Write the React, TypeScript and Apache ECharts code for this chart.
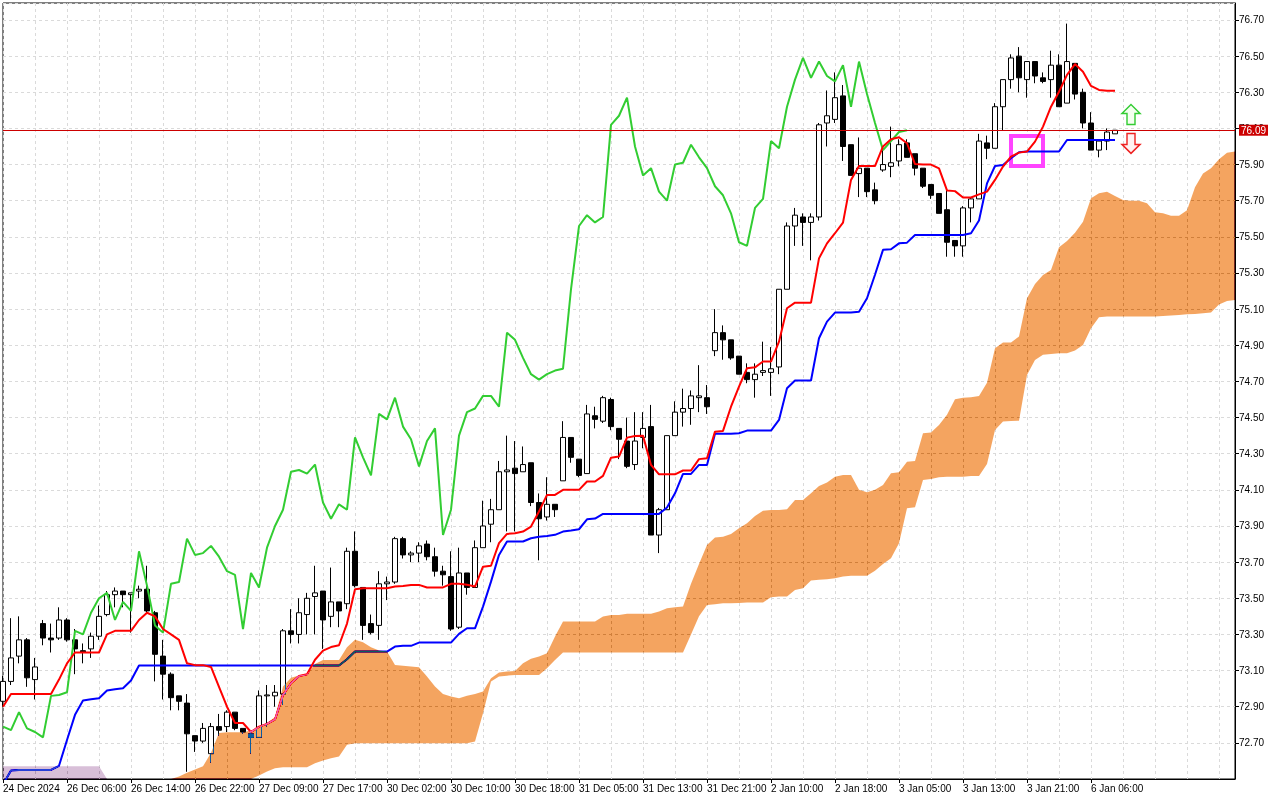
import React, { useEffect, useRef } from "react";
import * as echarts from "echarts";

// ---- tick labels (every 8 bars) ----
const timeLabels = [
  "24 Dec 2024", "26 Dec 06:00", "26 Dec 14:00", "26 Dec 22:00", "27 Dec 09:00", "27 Dec 17:00",
  "30 Dec 02:00", "30 Dec 10:00", "30 Dec 18:00", "31 Dec 05:00", "31 Dec 13:00", "31 Dec 21:00",
  "2 Jan 10:00", "2 Jan 18:00", "3 Jan 05:00", "3 Jan 13:00", "3 Jan 21:00", "6 Jan 06:00",
];

// ---- H1 candles ----
const opens = [
  72.93, 73.04, 73.18, 73.27, 73.05, 73.36, 73.28, 73.28, 73.38, 73.27,
  73.21, 73.22, 73.29, 73.41, 73.52, 73.54, 73.52, 73.54, 73.55, 73.42,
  73.18, 73.08, 72.96, 72.92, 72.74, 72.71, 72.64, 72.79, 72.79, 72.87,
  72.78, 72.75, 72.73, 72.96, 72.96, 72.97, 73.32, 73.30, 73.41, 73.51,
  73.54, 73.40, 73.48, 73.47, 73.76, 73.56, 73.36, 73.35, 73.58, 73.59,
  73.83, 73.74, 73.75, 73.80, 73.73, 73.65, 73.62, 73.34, 73.64, 73.56,
  73.78, 73.91, 73.99, 74.20, 74.22, 74.20, 74.25, 74.03, 73.95, 74.02,
  74.15, 74.39, 74.27, 74.19, 74.51, 74.48, 74.60, 74.44, 74.37, 74.24,
  74.39, 74.45, 73.85, 73.99, 74.40, 74.53, 74.55, 74.61, 74.61, 74.87,
  74.97, 74.93, 74.84, 74.75, 74.71, 74.75, 74.75, 74.78, 75.21, 75.56,
  75.61, 75.58, 75.61, 76.13, 76.15, 76.28, 76.01, 75.85, 75.88, 75.76,
  75.87, 75.89, 75.92, 76.02, 75.96, 75.88, 75.79, 75.74, 75.65, 75.48,
  75.45, 75.66, 75.71, 76.02, 75.99, 76.22, 76.37, 76.50, 76.37, 76.47,
  76.38, 76.37, 76.45, 76.24, 76.46, 76.30, 76.13, 75.98, 76.03, 76.07,
];
const highs = [
  73.07, 73.39, 73.40, 73.28, 73.17, 73.38, 73.36, 73.45, 73.39, 73.33,
  73.25, 73.31, 73.46, 73.54, 73.56, 73.54, 73.53, 73.57, 73.68, 73.43,
  73.27, 73.09, 72.96, 72.97, 72.74, 72.81, 72.81, 72.86, 72.88, 72.87,
  72.78, 72.76, 72.99, 73.02, 73.02, 73.33, 73.44, 73.50, 73.53, 73.68,
  73.54, 73.67, 73.48, 73.78, 73.87, 73.56, 73.41, 73.65, 73.62, 73.84,
  73.84, 73.76, 73.81, 73.82, 73.78, 73.68, 73.76, 73.78, 73.64, 73.82,
  74.04, 74.05, 74.26, 74.40, 74.37, 74.34, 74.25, 74.08, 74.17, 74.02,
  74.48, 74.39, 74.27, 74.57, 74.56, 74.62, 74.61, 74.44, 74.50, 74.53,
  74.53, 74.57, 74.00, 74.40, 74.59, 74.66, 74.65, 74.79, 74.68, 75.10,
  75.01, 74.93, 74.84, 74.80, 74.80, 74.92, 74.89, 75.21, 75.58, 75.66,
  75.63, 75.63, 76.13, 76.31, 76.41, 76.34, 76.01, 76.05, 75.88, 75.80,
  75.98, 76.11, 76.04, 76.04, 75.96, 75.88, 75.79, 75.74, 75.77, 75.48,
  75.67, 75.72, 76.07, 76.06, 76.24, 76.37, 76.51, 76.55, 76.47, 76.47,
  76.41, 76.53, 76.51, 76.68, 76.46, 76.32, 76.19, 76.03, 76.10, 76.09,
];
const lows = [
  72.90, 73.02, 73.14, 73.01, 72.94, 73.24, 73.20, 73.27, 73.26, 73.08,
  73.14, 73.17, 73.27, 73.40, 73.45, 73.45, 73.31, 73.50, 73.42, 73.04,
  72.94, 72.88, 72.88, 72.54, 72.65, 72.70, 72.59, 72.74, 72.76, 72.77,
  72.75, 72.64, 72.73, 72.79, 72.90, 72.91, 73.25, 73.25, 73.30, 73.30,
  73.22, 73.34, 73.34, 73.44, 73.56, 73.27, 73.30, 73.27, 73.49, 73.58,
  73.72, 73.70, 73.70, 73.71, 73.62, 73.57, 73.32, 73.33, 73.52, 73.56,
  73.78, 73.81, 73.99, 73.87, 73.87, 74.20, 74.01, 73.71, 73.93, 73.95,
  74.15, 74.25, 74.17, 74.19, 74.44, 74.47, 74.43, 74.27, 74.22, 74.21,
  74.33, 73.85, 73.75, 73.99, 74.40, 74.45, 74.46, 74.53, 74.52, 74.84,
  74.82, 74.82, 74.74, 74.69, 74.61, 74.73, 74.62, 74.74, 75.21, 75.45,
  75.45, 75.37, 75.59, 76.00, 76.13, 75.92, 75.84, 75.72, 75.72, 75.68,
  75.86, 75.83, 75.89, 75.94, 75.84, 75.77, 75.71, 75.63, 75.39, 75.39,
  75.39, 75.58, 75.71, 75.93, 75.99, 76.09, 76.32, 76.30, 76.27, 76.35,
  76.35, 76.27, 76.22, 76.24, 76.26, 76.10, 75.98, 75.94, 75.98, 76.07,
];
const closes = [
  73.04, 73.17, 73.27, 73.06, 73.12, 73.28, 73.27, 73.38, 73.27, 73.22,
  73.20, 73.29, 73.40, 73.52, 73.54, 73.52, 73.53, 73.55, 73.43, 73.19,
  73.08, 72.95, 72.93, 72.75, 72.71, 72.78, 72.79, 72.77, 72.87, 72.78,
  72.76, 72.73, 72.96, 72.965, 72.98, 73.32, 73.30, 73.42, 73.50, 73.53,
  73.38, 73.48, 73.43, 73.76, 73.57, 73.35, 73.31, 73.58, 73.59, 73.83,
  73.74, 73.75, 73.79, 73.73, 73.65, 73.63, 73.33, 73.64, 73.56, 73.78,
  73.90, 73.99, 74.20, 74.21, 74.19, 74.24, 74.03, 73.94, 74.02, 73.99,
  74.39, 74.28, 74.18, 74.52, 74.49, 74.61, 74.45, 74.38, 74.23, 74.37,
  74.44, 73.85, 73.99, 74.40, 74.53, 74.55, 74.62, 74.62, 74.56, 74.97,
  74.93, 74.83, 74.74, 74.71, 74.74, 74.76, 74.77, 75.21, 75.56, 75.62,
  75.58, 75.61, 76.12, 76.17, 76.27, 76.00, 75.84, 75.88, 75.75, 75.70,
  75.90, 75.91, 76.01, 75.94, 75.88, 75.78, 75.73, 75.63, 75.47, 75.45,
  75.66, 75.71, 76.03, 75.99, 76.22, 76.37, 76.49, 76.38, 76.47, 76.39,
  76.36, 76.45, 76.22, 76.47, 76.29, 76.13, 75.98, 76.03, 76.08, 76.09,
];

// ---- Ichimoku lines ----
const tenkan = [
  72.90, 72.97, 72.97, 72.97, 72.97, 72.97, 72.97, 73.05, 73.14, 73.20,
  73.20, 73.20, 73.20, 73.30, 73.32, 73.32, 73.32, 73.38, 73.42, 73.40,
  73.33, 73.30, 73.27, 73.14, 73.13, 73.13, 73.12, 73.01, 72.90, 72.81,
  72.81, 72.76, 72.79, 72.805, 72.83, 72.965, 73.03, 73.07, 73.08, 73.16,
  73.21, 73.23, 73.24, 73.36, 73.55, 73.556, 73.556, 73.556, 73.556, 73.565,
  73.568, 73.574, 73.574, 73.56, 73.56, 73.56, 73.58, 73.58, 73.575, 73.565,
  73.675, 73.68, 73.805, 73.856, 73.86, 73.869, 73.897, 73.98, 74.072, 74.072,
  74.10, 74.10, 74.10, 74.146, 74.146, 74.177, 74.278, 74.284, 74.389, 74.398,
  74.40, 74.238, 74.186, 74.186, 74.186, 74.207, 74.207, 74.27, 74.275, 74.422,
  74.426, 74.56, 74.671, 74.773, 74.778, 74.81, 74.81, 74.92, 75.105, 75.136,
  75.136, 75.136, 75.381, 75.464, 75.52, 75.579, 75.815, 75.892, 75.892, 75.892,
  76.0, 76.04, 76.051, 76.018, 75.903, 75.90, 75.90, 75.879, 75.757, 75.753,
  75.718, 75.718, 75.735, 75.75, 75.815, 75.889, 75.944, 75.966, 75.972, 76.027,
  76.11, 76.22, 76.303, 76.396, 76.456, 76.414, 76.335, 76.313, 76.309, 76.309,
];
const kijun = [
  72.47, 72.547, 72.55, 72.55, 72.55, 72.55, 72.55, 72.573, 72.716, 72.855,
  72.934, 72.941, 72.947, 72.99, 72.997, 73.002, 73.045, 73.128, 73.128, 73.128,
  73.128, 73.128, 73.128, 73.128, 73.128, 73.128, 73.128, 73.128, 73.128, 73.128,
  73.128, 73.128, 73.128, 73.128, 73.128, 73.128, 73.128, 73.128, 73.128, 73.128,
  73.128, 73.128, 73.128, 73.163, 73.205, 73.205, 73.205, 73.205, 73.205, 73.233,
  73.237, 73.237, 73.255, 73.255, 73.255, 73.255, 73.255, 73.303, 73.334, 73.334,
  73.454, 73.592, 73.74, 73.814, 73.814, 73.814, 73.832, 73.841, 73.845, 73.851,
  73.869, 73.875, 73.882, 73.937, 73.941, 73.967, 73.967, 73.967, 73.967, 73.967,
  73.967, 73.967, 73.967, 74.002, 74.081, 74.188, 74.188, 74.238, 74.238, 74.41,
  74.41, 74.41, 74.413, 74.428, 74.428, 74.428, 74.428, 74.487, 74.662, 74.705,
  74.705, 74.705, 74.939, 75.031, 75.081, 75.081, 75.081, 75.086, 75.16, 75.29,
  75.428, 75.431, 75.464, 75.468, 75.51, 75.51, 75.51, 75.51, 75.51, 75.51,
  75.51, 75.52, 75.59, 75.796, 75.892, 75.898, 75.935, 75.968, 75.972, 75.972,
  75.972, 75.972, 75.972, 76.036, 76.036, 76.036, 76.036, 76.036, 76.036, 76.036,
];
const spanA = [
  72.50, 72.50, 72.50, 72.50, 72.50, 72.50, 72.50, 72.50, 72.50, 72.50,
  72.50, 72.50, 72.50, 72.50, 72.50, 72.50, 72.50, 72.50, 72.50, 72.50,
  72.50, 72.50, 72.514, 72.535, 72.553, 72.57, 72.645, 72.755, 72.758, 72.758,
  72.758, 72.768, 72.79, 72.81, 72.843, 73.012, 73.06, 73.073, 73.08, 73.137,
  73.159, 73.159, 73.159, 73.229, 73.27, 73.257, 73.229, 73.211, 73.205, 73.131,
  73.126, 73.122, 73.118, 73.067, 73.012, 72.97, 72.956, 72.947, 72.96, 72.97,
  72.984, 73.058, 73.089, 73.095, 73.098, 73.141, 73.165, 73.178, 73.196, 73.288,
  73.371, 73.371, 73.371, 73.371, 73.371, 73.399, 73.408, 73.408, 73.414, 73.414,
  73.414, 73.414, 73.427, 73.445, 73.45, 73.454, 73.58, 73.69, 73.795, 73.836,
  73.841, 73.856, 73.888, 73.915, 73.956, 73.985, 73.989, 73.989, 73.993, 74.044,
  74.044, 74.081, 74.122, 74.14, 74.173, 74.182, 74.182, 74.10, 74.087, 74.10,
  74.127, 74.192, 74.197, 74.256, 74.26, 74.413, 74.417, 74.459, 74.515, 74.601,
  74.61, 74.612, 74.62, 74.693, 74.883, 74.915, 74.915, 74.948, 75.16, 75.239,
  75.289, 75.317, 75.442, 75.477, 75.523, 75.584, 75.713, 75.741, 75.75, 75.726,
  75.704, 75.70, 75.70, 75.686, 75.636, 75.63, 75.617, 75.617, 75.647, 75.775,
  75.85, 75.879, 75.93, 75.966, 75.972,
];
const spanB = [
  72.57, 72.57, 72.57, 72.57, 72.57, 72.57, 72.57, 72.57, 72.57, 72.57,
  72.57, 72.57, 72.57, 72.50, 72.50, 72.50, 72.50, 72.50, 72.50, 72.50,
  72.50, 72.50, 72.50, 72.50, 72.50, 72.50, 72.50, 72.50, 72.50, 72.50,
  72.50, 72.50, 72.52, 72.541, 72.56, 72.565, 72.565, 72.565, 72.565, 72.587,
  72.602, 72.615, 72.624, 72.689, 72.698, 72.698, 72.698, 72.698, 72.698, 72.698,
  72.698, 72.698, 72.698, 72.698, 72.698, 72.698, 72.698, 72.698, 72.698, 72.707,
  72.864, 73.04, 73.067, 73.072, 73.076, 73.076, 73.076, 73.076, 73.113, 73.159,
  73.20, 73.20, 73.20, 73.20, 73.20, 73.20, 73.20, 73.20, 73.20, 73.20,
  73.20, 73.20, 73.20, 73.20, 73.20, 73.20, 73.30, 73.40, 73.463, 73.467,
  73.472, 73.472, 73.474, 73.476, 73.476, 73.476, 73.506, 73.51, 73.51, 73.546,
  73.556, 73.598, 73.602, 73.605, 73.611, 73.62, 73.624, 73.624, 73.624, 73.653,
  73.69, 73.722, 73.805, 73.998, 74.004, 74.155, 74.16, 74.17, 74.173, 74.173,
  74.173, 74.177, 74.177, 74.243, 74.431, 74.478, 74.481, 74.483, 74.736, 74.819,
  74.847, 74.852, 74.856, 74.856, 74.871, 74.902, 74.994, 75.055, 75.059, 75.059,
  75.059, 75.059, 75.059, 75.059, 75.059, 75.062, 75.065, 75.068, 75.072, 75.073,
  75.077, 75.081, 75.125, 75.145, 75.15,
];

const lastPrice = 76.09;
const chikouShift = 26;
const totalSlots = 155;
const boxCorners = [[126, 76.058], [130, 75.892]];
const upArrow = [141, 76.177];
const downArrow = [141, 76.017];

// cloud layer is composited with "difference" over the white chart:
// these colours come out as sandy brown / thistle on white (like MT4's XOR histogram)
const BULL = "#0b5b9f";
const BEAR = "#274027";
const FONT = "Liberation Sans";

const GRID = { left: 3, right: 45, top: 3, bottom: 21 };
const Y_MIN = 72.5;
const Y_MAX = 76.794;

export default function App() {
  const baseRef = useRef<HTMLDivElement>(null);
  const cloudRef = useRef<HTMLDivElement>(null);

  useEffect(() => {
    if (!baseRef.current || !cloudRef.current) return;
    const chart = echarts.init(baseRef.current, null, { renderer: "svg" });
    const cloudChart = echarts.init(cloudRef.current, null, { renderer: "svg" });
    const categories = Array.from({ length: totalSlots }, (_, i) => String(i));
    const candles = opens.map((o, i) => [o, closes[i], lows[i], highs[i]]);
    const chikou = closes.slice(chikouShift);
    const cloudBase = spanA.map((a, i) => Math.min(a, spanB[i]));
    const bull = spanA.map((a, i) => (a >= spanB[i] ? +(a - spanB[i]).toFixed(4) : 0));
    const bear = spanA.map((a, i) => (a < spanB[i] ? +(spanB[i] - a).toFixed(4) : 0));

    const lineSeries = (name: string, data: number[], color: string) => ({
      name,
      type: "line",
      data,
      showSymbol: false,
      symbol: "none",
      z: 3,
      lineStyle: { color, width: 2 },
      itemStyle: { color },
    });

    chart.setOption({
      animation: false,
      backgroundColor: "#ffffff",
      textStyle: { fontFamily: FONT },
      grid: { ...GRID, show: true, borderColor: "#000", borderWidth: 1 },
      xAxis: {
        type: "category",
        data: categories,
        boundaryGap: false,
        axisLine: { lineStyle: { color: "#000", width: 1 } },
        axisTick: {
          interval: (i: number) => i % 8 === 0 && i <= 136,
          length: 4,
          lineStyle: { color: "#000" },
        },
        axisLabel: {
          interval: (i: number) => i % 8 === 0,
          formatter: (_v: string, i: number) => (i % 8 === 0 ? timeLabels[i / 8] ?? "" : ""),
          align: "left",
          color: "#000",
          fontSize: 10,
          fontFamily: FONT,
          margin: 4,
        },
        splitLine: {
          show: true,
          interval: (i: number) => i % 4 === 0,
          lineStyle: { color: "#dadada", type: [3, 3], width: 1 },
        },
      },
      yAxis: {
        type: "value",
        position: "right",
        min: Y_MIN,
        max: Y_MAX,
        interval: 0.2,
        axisLine: { show: true, lineStyle: { color: "#000", width: 1 } },
        axisTick: { show: true, length: 4, lineStyle: { color: "#000" } },
        axisLabel: {
          formatter: (v: number) => v.toFixed(2),
          showMinLabel: false,
          showMaxLabel: false,
          color: "#000",
          fontSize: 10,
          fontFamily: FONT,
          margin: 4,
        },
        splitLine: { show: true, lineStyle: { color: "#dadada", type: [3, 3], width: 1 } },
      },
      series: [
        {
          name: "price",
          type: "candlestick",
          data: candles,
          barWidth: 5,
          z: 2,
          itemStyle: {
            color: "#ffffff",
            color0: "#000000",
            borderColor: "#000000",
            borderColor0: "#000000",
            borderWidth: 1,
          },
          markLine: {
            silent: true,
            symbol: "none",
            data: [{ yAxis: lastPrice }],
            lineStyle: { color: "#cc0000", width: 1, type: "solid" },
            label: {
              show: true,
              position: "end",
              formatter: lastPrice.toFixed(2),
              color: "#ffffff",
              backgroundColor: "#cc0000",
              padding: [1, 2, 0, 2],
              fontSize: 10,
              fontFamily: FONT,
              distance: 4,
            },
          },
        },
        lineSeries("chikou", chikou, "#32cd32"),
        {
          ...lineSeries("kijun", kijun, "#0000ff"),
          markArea: {
            silent: true,
            itemStyle: { color: "rgba(0,0,0,0)", borderColor: "#ff44ff", borderWidth: 4 },
            data: [[{ coord: boxCorners[0] }, { coord: boxCorners[1] }]],
          },
        },
        {
          ...lineSeries("tenkan", tenkan, "#ff0000"),
          markPoint: {
            silent: true,
            label: { show: false },
            data: [
              {
                coord: upArrow,
                symbol: "path://M9 0L18 9L13 9L13 20L5 20L5 9L0 9Z",
                symbolSize: [18, 20],
                itemStyle: { color: "#f4fff0", borderColor: "#33cc33", borderWidth: 1.5 },
              },
              {
                coord: downArrow,
                symbol: "path://M5 0L13 0L13 11L18 11L9 20L0 11L5 11Z",
                symbolSize: [18, 20],
                itemStyle: { color: "#fff2f2", borderColor: "#ee2222", borderWidth: 1.5 },
              },
            ],
          },
        },
      ],
    });

    const hiddenAxis = {
      axisLine: { show: false },
      axisTick: { show: false },
      axisLabel: { show: false },
      splitLine: { show: false },
    };
    const cloudSeries = (name: string, data: number[], color?: string) => ({
      name,
      type: "line",
      data,
      stack: "cloud",
      showSymbol: false,
      symbol: "none",
      lineStyle: { opacity: 0, width: 0 },
      ...(color ? { areaStyle: { color, opacity: 1 } } : {}),
    });

    cloudChart.setOption({
      animation: false,
      backgroundColor: "transparent",
      grid: { ...GRID },
      xAxis: { type: "category", data: categories, boundaryGap: false, ...hiddenAxis },
      yAxis: { type: "value", position: "right", min: Y_MIN, max: Y_MAX, interval: 0.2, ...hiddenAxis },
      series: [
        cloudSeries("cloudBase", cloudBase),
        cloudSeries("cloudBull", bull, BULL),
        cloudSeries("cloudBear", bear, BEAR),
      ],
    });

    return () => {
      chart.dispose();
      cloudChart.dispose();
    };
  }, []);

  return (
    <div style={{ position: "fixed", left: 0, top: 0, width: 1280, height: 800, background: "#fff" }}>
      <div ref={baseRef} style={{ position: "absolute", left: 0, top: 0, width: 1280, height: 800 }} />
      <div
        ref={cloudRef}
        style={{
          position: "absolute",
          left: 0,
          top: 0,
          width: 1280,
          height: 800,
          mixBlendMode: "difference",
          pointerEvents: "none",
        }}
      />
    </div>
  );
}
